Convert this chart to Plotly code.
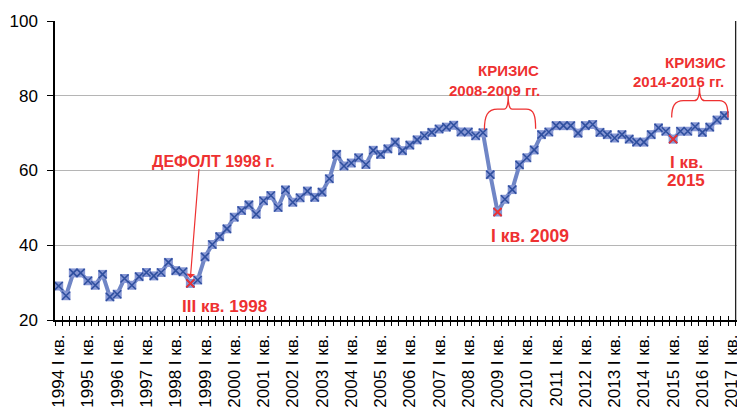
import plotly.graph_objects as go

years = list(range(1994, 2018))
# Quarterly values, 1994 Q1 .. 2016 Q4
values = [
    29.1, 26.5, 32.6, 32.6,   # 1994
    30.5, 29.3, 32.2, 26.2,   # 1995
    26.9, 31.1, 29.3, 31.6,   # 1996
    32.7, 31.8, 32.7, 35.4,   # 1997
    33.2, 32.9, 29.8, 30.7,   # 1998
    36.9, 40.2, 42.3, 44.4,   # 1999
    47.5, 49.3, 50.8, 48.3,   # 2000
    51.9, 53.3, 50.1, 54.8,   # 2001
    51.5, 52.7, 54.5, 52.8,   # 2002
    54.2, 57.8, 64.3, 61.2,   # 2003
    62.0, 63.4, 61.6, 65.4,   # 2004
    64.3, 65.8, 67.6, 65.3,   # 2005
    66.8, 68.2, 69.3, 70.2,   # 2006
    71.1, 71.6, 72.1, 70.3,   # 2007
    70.3, 69.3, 70.1, 58.9,   # 2008
    48.9, 52.3, 54.9, 61.5,   # 2009
    63.4, 65.5, 69.6, 70.3,   # 2010
    72.0, 72.0, 72.0, 70.0,   # 2011
    72.0, 72.3, 70.2, 69.6,   # 2012
    68.7, 69.6, 68.4, 67.6,   # 2013
    67.6, 69.6, 71.4, 70.5,   # 2014
    68.4, 70.5, 70.5, 71.7,   # 2015
    70.2, 71.6, 73.5, 74.7,   # 2016
]
highlight_idx = [18, 60, 84]  # III кв. 1998, I кв. 2009, I кв. 2015

tick_labels = [f"{y} I кв." for y in years]
tick_pos = [4 * k for k in range(len(years))]
n_cat = len(years) * 4 - 3
boundaries = [k - 0.5 for k in range(n_cat + 1)]
x = list(range(len(values)))
hx = highlight_idx
hy = [values[i] for i in highlight_idx]

RED = "#ee3131"
XR = [-0.506, 92.73]

fig = go.Figure()
fig.add_trace(go.Scatter(
    x=x, y=values, mode="lines+markers",
    line=dict(color="#7086c6", width=4),
    marker=dict(symbol="square", size=9, color="#8797d4", line=dict(width=0)),
    hoverinfo="skip", showlegend=False))
fig.add_trace(go.Scatter(
    x=x, y=values, mode="markers", xaxis="x2",
    marker=dict(symbol="x-thin", size=8, line=dict(color="#2f4f9f", width=1.6)),
    hoverinfo="skip", showlegend=False))
fig.add_trace(go.Scatter(
    x=hx, y=hy, mode="markers", xaxis="x2",
    marker=dict(symbol="x-thin", size=8, line=dict(color=RED, width=1.8)),
    hoverinfo="skip", showlegend=False))

font_ax = dict(family="Liberation Sans, Arial, sans-serif", size=17, color="black")

fig.update_layout(
    width=737, height=409,
    margin=dict(l=55, r=0, t=21, b=89),
    paper_bgcolor="white", plot_bgcolor="white",
    xaxis=dict(
        range=XR, tickmode="array", tickvals=tick_pos, ticktext=tick_labels,
        tickangle=-90, tickfont=font_ax, ticks="", showgrid=False, zeroline=False,
        showline=True, linecolor="black", linewidth=1.5,
        ticklabelstandoff=6, automargin=False, ticklabeloverflow="allow",
        minor=dict(tickmode="array", tickvals=boundaries, ticks="outside",
                   ticklen=4, tickwidth=1.3, tickcolor="black", showgrid=False),
    ),
    xaxis2=dict(
        range=XR, overlaying="x", anchor="y", side="bottom",
        tickmode="array", tickvals=boundaries, ticks="inside", ticklen=4,
        tickwidth=1.3, tickcolor="black", showticklabels=False,
        showgrid=False, zeroline=False, showline=False,
    ),
    yaxis=dict(
        range=[20, 100], tickmode="array", tickvals=[20, 40, 60, 80, 100],
        tickfont=font_ax, ticks="outside", ticklen=6, tickwidth=1.3,
        tickcolor="black", showline=True, linecolor="black", linewidth=1.5,
        showgrid=True, gridcolor="#b5b5b5", gridwidth=1.3, zeroline=False,
        ticklabelstandoff=6, automargin=False,
    ),
)

fig.add_shape(type="line", xref="paper", yref="paper", x0=0.998, x1=0.998,
              y0=0, y1=1, line=dict(color="#222222", width=1.3))

# braces
brace1 = ("M 58.2,70.9 C 58.2,74.6 58.6,76.4 60,76.4 L 60.9,76.4 "
          "C 61.3,76.4 61.45,77.6 61.45,79.9 C 61.45,77.6 61.6,76.4 62,76.4 "
          "L 63.9,76.4 C 65.0,76.4 65.2,74.6 65.2,71.2")
brace2 = ("M 83.8,74.2 C 83.8,77.2 84.2,78.7 85.4,78.7 L 86.9,78.7 "
          "C 87.4,78.7 87.6,79.8 87.6,82.3 C 87.6,79.8 87.8,78.7 88.3,78.7 "
          "L 90.3,78.7 C 91.3,78.7 91.5,77.2 91.5,74.2")
for p in (brace1, brace2):
    fig.add_shape(type="path", xref="x", yref="y", path=p,
                  line=dict(color=RED, width=1.3))

fb = "Liberation Sans, Arial, sans-serif"
def ann(text, xx, yy, size):
    fig.add_annotation(x=xx, y=yy, xref="x", yref="y", text=f"<b>{text}</b>",
                       showarrow=False, font=dict(family=fb, size=size, color=RED))

ann("ДЕФОЛТ 1998 г.", 21.1, 62.4, 16)
ann("III кв. 1998", 22.6, 23.7, 17)
ann("I кв. 2009", 64.4, 42.4, 17.5)
ann("КРИЗИС", 61.5, 86.7, 15)
ann("2008-2009 гг.", 59.6, 81.5, 15)
ann("КРИЗИС", 87.05, 88.9, 15)
ann("2014-2016 гг.", 84.7, 83.8, 15)
ann("I кв.", 85.8, 62.2, 17)
ann("2015", 85.8, 57.3, 17)

fig.add_annotation(x=hx[0], y=hy[0] + 1.4, ax=19.2, ay=60.8,
                   xref="x", yref="y", axref="x", ayref="y", text="",
                   showarrow=True, arrowhead=1, arrowsize=1.2, arrowwidth=1.2,
                   arrowcolor=RED)

fig.write_html("out.html", config={"displayModeBar": False},
               post_script="document.body.style.margin='0';document.body.style.overflow='hidden';")
